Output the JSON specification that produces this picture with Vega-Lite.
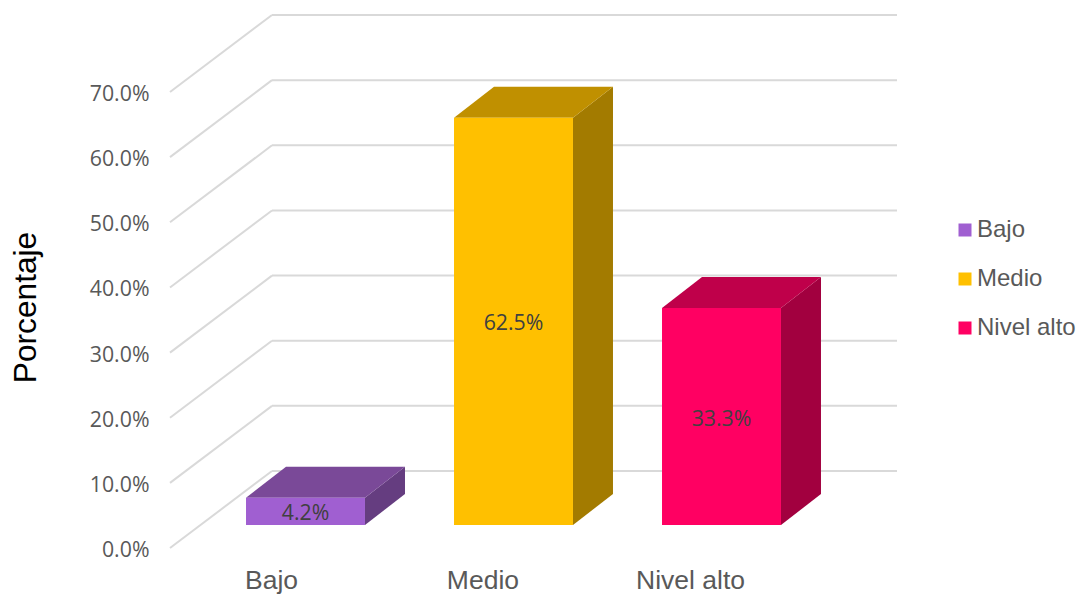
{
"$schema":"https://vega.github.io/schema/vega-lite/v6.json",
"width":1080,"height":595,"padding":0,"autosize":{"type":"none"},
"background":"white",
"datasets":{
"bars":[{"cat":"Bajo","value":0.042},{"cat":"Medio","value":0.625},{"cat":"Nivel alto","value":0.333}],
"grid":[{"tick":0},{"tick":0.1},{"tick":0.2},{"tick":0.3},{"tick":0.4},{"tick":0.5},{"tick":0.6},{"tick":0.7}]
},
"config":{"view":{"stroke":null},"font":"Liberation Sans"},
"layer":[
{"data":{"name":"grid"},
"transform":[{"calculate":"-0.6514","as":"x0"},{"calculate":"-0.16106","as":"x1"},{"calculate":"datum.tick+0.1182","as":"back"}],
"mark":{"type":"rule","color":"#d9d9d9","strokeWidth":2},
"encoding":{
"x":{"field":"x0","type":"quantitative","scale":{"domain":[-1.46875,3.72356],"nice":false,"zero":false},"axis":null},
"x2":{"field":"x1"},
"y":{"field":"tick","type":"quantitative","scale":{"domain":[-0.07215,0.84125],"nice":false,"zero":false},
"axis":{"orient":"left","offset":-149,"values":[0,0.1,0.2,0.3,0.4,0.5,0.6,0.7],"format":".1%","domain":false,"ticks":false,"grid":false,"labelPadding":0,"labelFont":"Open Sans","labelFontSize":21.3,"labelOffset":2.5,"labelColor":"#595959","title":"Porcentaje","titleFont":"Liberation Sans","titleFontSize":31.7,"titleFontWeight":"normal","titleColor":"#000000","titleX":-124,"titleY":307,"titleAngle":-90,"titleAlign":"center","titleBaseline":"middle"}},
"y2":{"field":"back"}
}},
{"data":{"name":"grid"},
"transform":[{"calculate":"-0.16106","as":"x0"},{"calculate":"2.8438","as":"x1"},{"calculate":"datum.tick+0.1182","as":"back"}],
"mark":{"type":"rule","color":"#d9d9d9","strokeWidth":2},
"encoding":{
"x":{"field":"x0","type":"quantitative","axis":null},
"x2":{"field":"x1"},
"y":{"field":"back","type":"quantitative"}
}},
{"data":{"name":"bars"},
"transform":[
{"calculate":"indexof(['Bajo','Medio','Nivel alto'],datum.cat)","as":"i"},
{"calculate":"[0,1]","as":"t"},{"flatten":["t"]},
{"calculate":"datum.i+0.286+datum.t*0.1923","as":"px"},
{"calculate":"0.0353+datum.t*0.0476","as":"lo"},
{"calculate":"datum.lo+datum.value","as":"hi"}],
"mark":{"type":"area","orient":"vertical"},
"encoding":{
"x":{"field":"px","type":"quantitative","axis":null},
"y":{"field":"hi","type":"quantitative","stack":null},
"y2":{"field":"lo"},
"color":{"field":"cat","type":"nominal","legend":null,"scale":{"domain":["Bajo","Medio","Nivel alto"],"range":["#653d80","#a37b00","#a2003f"]}}
}},
{"data":{"name":"bars"},
"transform":[
{"calculate":"indexof(['Bajo','Medio','Nivel alto'],datum.cat)","as":"i"},
{"calculate":"[0,1]","as":"t"},{"flatten":["t"]},
{"calculate":"datum.i-0.286+datum.t*0.1923","as":"xa"},
{"calculate":"datum.i+0.286+datum.t*0.1923","as":"xb"},
{"calculate":"0.0353+datum.value+datum.t*0.0476","as":"ty"}],
"mark":{"type":"area","orient":"horizontal"},
"encoding":{
"y":{"field":"ty","type":"quantitative"},
"x":{"field":"xa","type":"quantitative","stack":null,"axis":null},
"x2":{"field":"xb"},
"color":{"field":"cat","type":"nominal","legend":null,"scale":{"domain":["Bajo","Medio","Nivel alto"],"range":["#7a4998","#c09000","#bf004a"]}}
}},
{"data":{"name":"bars"},
"transform":[
{"calculate":"indexof(['Bajo','Medio','Nivel alto'],datum.cat)","as":"i"},
{"calculate":"datum.i-0.286","as":"xa"},
{"calculate":"datum.i+0.286","as":"xb"},
{"calculate":"0.0353","as":"lo"},
{"calculate":"0.0353+datum.value","as":"hi"}],
"mark":{"type":"rect"},
"encoding":{
"x":{"field":"xa","type":"quantitative","axis":null},
"x2":{"field":"xb"},
"y":{"field":"lo","type":"quantitative"},
"y2":{"field":"hi"},
"color":{"field":"cat","type":"nominal","scale":{"domain":["Bajo","Medio","Nivel alto"],"range":["#a05fd1","#ffc000","#ff0062"]},
"legend":{"orient":"none","legendX":953,"legendY":218,"title":null,"symbolType":"square","symbolSize":169,"symbolStrokeWidth":0,"labelFont":"Liberation Sans","labelFontSize":24,"labelColor":"#595959","labelOffset":0,"rowPadding":25,"padding":0}}
}},
{"data":{"name":"bars"},
"transform":[
{"calculate":"indexof(['Bajo','Medio','Nivel alto'],datum.cat)","as":"i"},
{"calculate":"0.0353+datum.value/2","as":"mid"}],
"mark":{"type":"text","font":"Open Sans","fontSize":21.3,"color":"#404040","align":"center","baseline":"middle","dy":3},
"encoding":{
"x":{"field":"i","type":"quantitative","axis":null},
"y":{"field":"mid","type":"quantitative"},
"text":{"field":"value","type":"quantitative","format":".1%"}
}},
{"data":{"name":"bars"},
"transform":[
{"calculate":"indexof(['Bajo','Medio','Nivel alto'],datum.cat)","as":"i"},
{"calculate":"[-0.1635,0.853,1.851][datum.i]","as":"lx"}],
"mark":{"type":"text","font":"Liberation Sans","fontSize":26.5,"color":"#595959","align":"center","baseline":"middle"},
"encoding":{
"x":{"field":"lx","type":"quantitative","axis":null},
"y":{"datum":-0.0507,"type":"quantitative"},
"text":{"field":"cat","type":"nominal"}
}}
],
"resolve":{"scale":{"color":"independent"}}
}
